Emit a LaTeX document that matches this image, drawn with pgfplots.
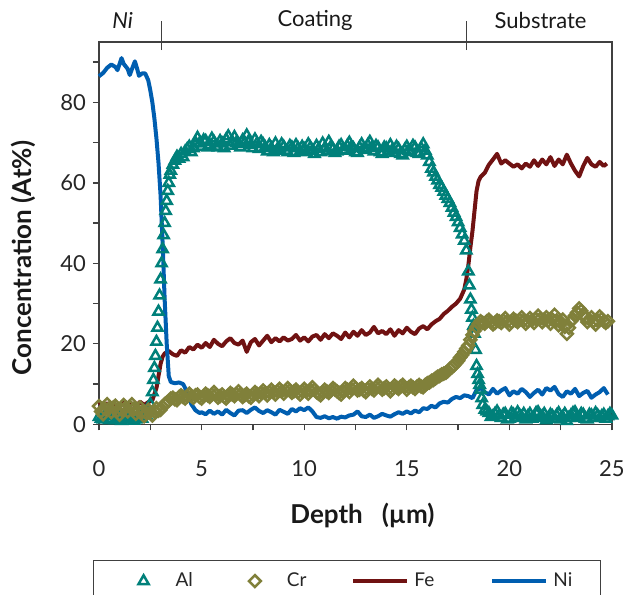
\documentclass[border=0pt]{standalone}
\usepackage{fontspec}
\setmainfont{Lato}
\usepackage{pgfplots}
\pgfplotsset{compat=1.18}

\definecolor{alc}{RGB}{0,128,122}
\definecolor{crc}{RGB}{128,128,58}
\definecolor{fec}{RGB}{112,18,18}
\definecolor{nic}{RGB}{0,94,176}
\definecolor{axc}{RGB}{64,64,64}

\begin{document}
\begin{tikzpicture}
\begin{axis}[
    at={(0,0)}, anchor=south west,
    scale only axis, width=256.5pt, height=191.15pt,
    xmin=0, xmax=25, ymin=0, ymax=95,
    clip=false,
    axis line style={axc, line width=0.65pt},
    xtick={0,5,...,25}, minor xtick={2.5,7.5,...,22.5},
    ytick={0,20,...,80}, minor ytick={10,30,...,90},
    tick align=outside, tick pos=left,
    major tick length=3pt, minor tick length=3pt,
    tick style={axc, line width=0.65pt},
    ticklabel style={font=\fontsize{11}{13}\selectfont, text=black!85},
    xticklabel style={anchor=center, yshift=-19.35pt},
    /pgf/number format/assume math mode=true,
    xlabel={\bfseries Depth\ \ \ (µm)},
    ylabel={\bfseries Concentration (At\%)},
    label style={font=\fontsize{13}{15}\selectfont, text=black!90},
    xlabel style={at={(axis description cs:0.5,0)}, anchor=center, yshift=-45.35pt, xshift=3.5pt},
    ylabel style={at={(axis description cs:0,0.435)}, anchor=center, yshift=37.85pt},
    legend columns=4,
    legend image code/.code={\path[draw=none, fill=none] (0pt,-1pt) rectangle (27pt,1pt); \draw[mark repeat=2,mark phase=2,#1] plot coordinates {(0pt,0pt)(13.5pt,0pt)(27pt,0pt)};},
    legend style={at={(-0.0117,-0.355)}, anchor=north west, draw=axc, line width=0.6pt,
        font=\fontsize{9.5}{11}\selectfont, text=black!85,
        inner xsep=11.5pt, inner ysep=4pt,
        nodes={inner xsep=2.5pt, inner ysep=2pt},
        /tikz/column 2/.style={column sep=15pt},
        /tikz/column 4/.style={column sep=20pt},
        /tikz/column 6/.style={column sep=25.5pt}},
]

% Al
\addplot[only marks, mark=triangle, mark size=2.9pt, mark options={alc, line width=1.25pt}] coordinates {
(0.0,1.8) (0.1,1.4) (0.2,1.2) (0.3,2.2) (0.4,2.0) (0.5,1.0) (0.6,1.4) (0.7,2.4) (0.8,1.0) (0.9,1.8)
(1.0,1.6) (1.1,0.8) (1.2,2.2) (1.3,1.6) (1.4,1.3) (1.5,2.4) (1.6,1.8) (1.7,0.9) (1.8,1.2) (1.9,2.2)
(2.0,2.0) (2.1,1.4) (2.2,2.6) (2.3,2.2) (2.4,3.5) (2.5,5) (2.6,8) (2.65,11) (2.7,14) (2.75,17)
(2.8,20.5) (2.85,24) (2.9,28) (2.95,32) (3.0,36) (3.05,40) (3.1,43.5) (3.15,47) (3.2,50) (3.25,53)
(3.3,55.5) (3.35,58) (3.4,60) (3.45,62) (3.5,63) (3.6,64.5) (3.7,65.5) (3.8,66.5) (3.9,66.0) (4.0,67.2)
(4.1,66.4) (4.2,67.8) (4.3,68.4) (4.4,69.0) (4.5,67.6) (4.6,68.6) (4.7,70.0) (4.8,71.2) (4.9,69.8) (5.0,69.0)
(5.1,70.6) (5.2,70.4) (5.3,68.8) (5.4,69.4) (5.5,71.0) (5.6,70.2) (5.7,69.0) (5.8,68.8) (5.9,70.4) (6.0,69.8)
(6.1,68.6) (6.2,70.8) (6.3,71.6) (6.4,69.2) (6.5,70.2) (6.6,71.4) (6.7,70.0) (6.8,69.6) (6.9,68.8) (7.0,70.6)
(7.1,70.0) (7.2,71.8) (7.3,70.4) (7.4,69.4) (7.5,68.6) (7.6,70.8) (7.7,69.8) (7.8,68.4) (7.9,70.2) (8.0,69.6)
(8.1,68.8) (8.2,67.8) (8.3,69.4) (8.4,68.6) (8.5,67.6) (8.6,69.8) (8.7,68.4) (8.8,68.2) (8.9,69.6) (9.0,69.0)
(9.1,68.0) (9.2,67.6) (9.3,69.2) (9.4,68.8) (9.5,67.4) (9.6,69.4) (9.7,68.6) (9.8,67.8) (9.9,69.0) (10.0,68.4)
(10.1,67.6) (10.2,69.6) (10.3,68.8) (10.4,68.0) (10.5,67.2) (10.6,69.2) (10.7,68.4) (10.8,67.6) (10.9,69.8) (11.0,68.6)
(11.1,67.8) (11.2,70.2) (11.3,69.0) (11.4,68.4) (11.5,67.4) (11.6,67.8) (11.7,69.0) (11.8,69.4) (11.9,68.2) (12.0,68.0)
(12.1,69.2) (12.2,70.0) (12.3,68.8) (12.4,68.6) (12.5,67.6) (12.6,67.4) (12.7,68.8) (12.8,69.6) (12.9,68.4) (13.0,68.2)
(13.1,69.4) (13.2,70.2) (13.3,68.6) (13.4,67.8) (13.5,69.2) (13.6,68.8) (13.7,67.6) (13.8,67.2) (13.9,68.8) (14.0,68.6)
(14.1,67.8) (14.2,69.4) (14.3,68.2) (14.4,67.4) (14.5,69.0) (14.6,68.4) (14.7,67.2) (14.8,66.8) (14.9,68.2) (15.0,69.0)
(15.1,68.0) (15.2,67.6) (15.3,69.2) (15.4,68.8) (15.5,67.4) (15.6,67.2) (15.7,68.6) (15.8,69.6) (15.9,68.0) (16.0,66.8)
(16.1,65.2) (16.2,63.5) (16.3,62.6) (16.4,61.5) (16.5,60.6) (16.6,59.5) (16.7,58.8) (16.8,57.8) (16.9,56.8) (17.0,56)
(17.1,55) (17.2,53.8) (17.3,52.6) (17.4,51.5) (17.5,50.2) (17.6,48.8) (17.7,47.2) (17.8,45.6) (17.9,43.2) (18.0,38)
(18.05,34.5) (18.1,31) (18.15,28.5) (18.2,26.5) (18.25,24.5) (18.3,22.5) (18.35,18.5) (18.4,14.5) (18.45,12.5) (18.5,11)
(18.55,9.8) (18.6,8.6) (18.65,6.5) (18.7,4.8) (18.8,3.6) (18.9,3.2) (19.0,2.8) (19.1,1.8) (19.2,2.0) (19.3,2.6)
(19.4,3.2) (19.5,2.2) (19.6,1.6) (19.7,2.4) (19.8,2.6) (19.9,1.2) (20.0,1.4) (20.1,2.8) (20.2,2.4) (20.3,1.6)
(20.4,3.0) (20.5,2.2) (20.6,1.8) (20.7,2.6) (20.8,1.2) (20.9,2.0) (21.0,2.6) (21.1,1.4) (21.2,1.6) (21.3,2.8)
(21.4,3.0) (21.5,1.8) (21.6,2.0) (21.7,2.6) (21.8,1.0) (21.9,1.6) (22.0,2.4) (22.1,2.0) (22.2,1.4) (22.3,2.2)
(22.4,2.8) (22.5,1.2) (22.6,1.8) (22.7,2.6) (22.8,0.8) (22.9,1.6) (23.0,2.2) (23.1,2.8) (23.2,3.0) (23.3,1.8)
(23.4,1.6) (23.5,2.6) (23.6,2.4) (23.7,1.4) (23.8,1.2) (23.9,2.4) (24.0,2.2) (24.1,1.6) (24.2,2.8) (24.3,2.2)
(24.4,1.6) (24.5,2.0) (24.6,2.4) (24.7,1.4) (24.8,2.0) (24.9,2.6) (25.0,2.2)
};
\addlegendentry{Al}

% Cr
\addplot[only marks, mark=square, mark size=2.1pt, mark options={crc, line width=1.25pt, rotate=45}] coordinates {
(0.0,4.5) (0.1,3.2) (0.2,2.5) (0.3,3.8) (0.4,5.0) (0.5,4.0) (0.6,3.0) (0.7,4.2) (0.8,4.6) (0.9,3.4)
(1.0,2.4) (1.1,3.6) (1.2,4.8) (1.3,4.2) (1.4,3.2) (1.5,4.4) (1.6,5.0) (1.7,3.8) (1.8,2.6) (1.9,3.4)
(2.0,4.2) (2.1,3.0) (2.2,2.0) (2.3,2.8) (2.4,3.6) (2.5,3.0) (2.6,2.2) (2.7,3.2) (2.8,4.0) (2.9,3.4)
(3.0,3.6) (3.1,4.4) (3.2,5.0) (3.3,5.4) (3.4,5.8) (3.5,6.4) (3.6,6.6) (3.7,6.2) (3.8,6.0) (3.9,6.8)
(4.0,7.2) (4.1,6.8) (4.2,6.4) (4.3,7.0) (4.4,7.6) (4.5,7.0) (4.6,6.6) (4.7,7.2) (4.8,7.4) (4.9,6.8)
(5.0,6.4) (5.1,7.0) (5.2,7.6) (5.3,7.2) (5.4,6.8) (5.5,7.4) (5.6,8.0) (5.7,7.4) (5.8,6.6) (5.9,7.0)
(6.0,7.4) (6.1,6.8) (6.2,6.4) (6.3,7.2) (6.4,7.8) (6.5,7.4) (6.6,7.0) (6.7,7.6) (6.8,8.2) (6.9,7.4)
(7.0,6.8) (7.1,7.2) (7.2,7.6) (7.3,7.0) (7.4,6.6) (7.5,7.4) (7.6,8.0) (7.7,7.6) (7.8,7.0) (7.9,7.8)
(8.0,8.4) (8.1,7.8) (8.2,7.2) (8.3,8.0) (8.4,8.6) (8.5,8.0) (8.6,7.4) (8.7,8.2) (8.8,8.8) (8.9,8.2)
(9.0,7.6) (9.1,8.4) (9.2,9.0) (9.3,8.4) (9.4,7.8) (9.5,8.2) (9.6,8.6) (9.7,8.0) (9.8,7.4) (9.9,8.2)
(10.0,8.8) (10.1,8.2) (10.2,7.6) (10.3,8.4) (10.4,9.2) (10.5,8.6) (10.6,8.0) (10.7,7.6) (10.8,7.2) (10.9,8.0)
(11.0,8.6) (11.1,8.2) (11.2,7.8) (11.3,8.4) (11.4,9.0) (11.5,8.6) (11.6,8.2) (11.7,7.8) (11.8,7.4) (11.9,8.2)
(12.0,9.0) (12.1,8.6) (12.2,8.0) (12.3,8.8) (12.4,9.6) (12.5,9.0) (12.6,8.4) (12.7,8.6) (12.8,9.0) (12.9,8.4)
(13.0,8.0) (13.1,8.8) (13.2,9.4) (13.3,8.8) (13.4,8.4) (13.5,9.2) (13.6,9.8) (13.7,9.2) (13.8,8.6) (13.9,9.0)
(14.0,9.4) (14.1,8.8) (14.2,8.2) (14.3,8.8) (14.4,9.6) (14.5,9.2) (14.6,8.8) (14.7,9.4) (14.8,9.8) (14.9,9.2)
(15.0,8.6) (15.1,9.2) (15.2,9.6) (15.3,9.2) (15.4,8.8) (15.5,9.4) (15.6,9.8) (15.7,9.4) (15.8,9.2) (15.9,9.8)
(16.0,10.2) (16.1,10.4) (16.2,10.8) (16.3,11.0) (16.4,11.4) (16.5,11.8) (16.6,12.0) (16.7,12.4) (16.8,12.6) (16.9,12.8)
(17.0,13.2) (17.1,13.8) (17.2,14.2) (17.3,14.6) (17.4,15.2) (17.5,15.8) (17.6,16.6) (17.7,17.2) (17.8,18.0) (17.9,18.8)
(18.0,19.6) (18.1,21.0) (18.2,22.2) (18.3,23.2) (18.4,24.2) (18.5,25.0) (18.6,25.6) (18.7,25.2) (18.8,25.0) (18.9,25.6)
(19.0,26.0) (19.1,25.4) (19.2,24.8) (19.3,25.2) (19.4,25.8) (19.5,25.6) (19.6,25.2) (19.7,25.8) (19.8,26.4) (19.9,25.6)
(20.0,24.8) (20.1,25.4) (20.2,26.2) (20.3,25.8) (20.4,25.4) (20.5,26.0) (20.6,26.6) (20.7,25.8) (20.8,25.0) (20.9,25.6)
(21.0,26.4) (21.1,25.8) (21.2,25.2) (21.3,26.2) (21.4,27.0) (21.5,26.2) (21.6,25.4) (21.7,26.0) (21.8,26.6) (21.9,25.8)
(22.0,25.0) (22.1,26.0) (22.2,27.2) (22.3,25.8) (22.4,24.6) (22.5,25.4) (22.6,26.0) (22.7,24.2) (22.8,22.5) (22.9,24.0)
(23.0,25.6) (23.1,26.2) (23.2,27.0) (23.3,27.8) (23.4,28.8) (23.5,28.2) (23.6,27.4) (23.7,26.4) (23.8,25.4) (23.9,26.0)
(24.0,26.6) (24.1,25.6) (24.2,24.8) (24.3,25.8) (24.4,26.8) (24.5,26.2) (24.6,25.6) (24.7,25.2) (24.8,25.6)
};
\addlegendentry{Cr}

% Fe
\addplot[fec, line width=2pt, line join=round] coordinates {
(0.0,5.5) (0.2,4.6) (0.4,5.2) (0.6,4.4) (0.8,5.0) (1.0,4.2) (1.2,5.4) (1.4,4.6) (1.6,5.2) (1.8,4.4)
(2.0,5.6) (2.2,4.8) (2.4,5.5) (2.6,6.0) (2.8,9) (2.9,12) (3.0,15) (3.1,16.8) (3.2,17.6) (3.4,18.2)
(3.6,17.4) (3.8,17.0) (4.0,18.4) (4.2,17.8) (4.4,19.2) (4.6,18.6) (4.8,19.8) (5.0,19.0) (5.2,20.2) (5.4,19.2)
(5.6,21.0) (5.8,20.0) (6.0,19.4) (6.2,20.6) (6.4,21.4) (6.6,20.2) (6.8,19.8) (7.0,20.8) (7.2,18.0) (7.4,20.4)
(7.6,21.2) (7.8,19.6) (8.0,20.8) (8.2,22.0) (8.4,20.4) (8.6,21.4) (8.8,20.6) (9.0,21.6) (9.2,20.8) (9.4,21.2)
(9.6,22.2) (9.8,20.8) (10.0,21.6) (10.2,20.6) (10.4,21.8) (10.6,22.2) (10.8,21.0) (11.0,22.4) (11.2,21.4) (11.4,22.6)
(11.6,22.0) (11.8,21.2) (12.0,22.8) (12.2,21.6) (12.4,23.0) (12.6,22.0) (12.8,23.4) (13.0,22.2) (13.2,22.8) (13.4,24.2)
(13.6,22.6) (13.8,23.2) (14.0,22.4) (14.2,23.6) (14.4,22.0) (14.6,23.4) (14.8,22.6) (15.0,24.0) (15.2,23.0) (15.4,22.4)
(15.6,23.8) (15.8,24.4) (16.0,23.6) (16.2,24.8) (16.4,25.6) (16.6,26.2) (16.8,27.4) (17.0,28.2) (17.2,29.2) (17.4,30.0)
(17.6,31.2) (17.8,33.5) (17.9,36) (18.0,39.5) (18.1,44) (18.2,48) (18.3,53) (18.4,58) (18.5,60.5) (18.6,61.5)
(18.8,62.5) (19.0,64.5) (19.2,65.8) (19.4,67.2) (19.6,64.8) (19.8,65.6) (20.0,64.8) (20.2,64.0) (20.4,64.6) (20.6,63.6)
(20.8,64.8) (21.0,64.0) (21.2,65.6) (21.4,64.2) (21.6,65.8) (21.8,64.6) (22.0,66.4) (22.2,64.2) (22.4,65.8) (22.6,64.6)
(22.8,67.0) (23.0,64.8) (23.2,63.0) (23.4,61.6) (23.6,64.2) (23.8,66.2) (24.0,64.6) (24.2,64.0) (24.4,65.2) (24.6,64.2)
(24.75,64.8)
};
\addlegendentry{Fe}

% Ni
\addplot[nic, line width=2pt, line join=round] coordinates {
(0.0,86.5) (0.2,87.3) (0.4,88.6) (0.6,89.4) (0.8,88.8) (0.9,88.0) (1.0,89.5) (1.1,91.0) (1.2,89.6) (1.4,88.3)
(1.5,86.8) (1.6,88.2) (1.75,90.2) (1.85,88.5) (1.95,86.6) (2.1,87.2) (2.25,87.2) (2.4,85.5) (2.5,83) (2.6,80)
(2.7,76) (2.8,71) (2.9,65) (3.0,57) (3.1,45) (3.2,31) (3.3,20) (3.4,12) (3.5,10.5) (3.7,10.2)
(3.9,10.4) (4.1,10.0) (4.3,8.0) (4.5,5.0) (4.7,3.5) (4.9,2.8) (5.0,3) (5.2,2.5) (5.4,3.4) (5.6,2.6)
(5.8,3.2) (6.0,2.4) (6.2,3.6) (6.4,2.8) (6.6,2.2) (6.8,3.4) (7.0,3.5) (7.2,2.8) (7.4,3.6) (7.6,4.2)
(7.8,3.3) (8.0,2.8) (8.2,3.5) (8.4,3.0) (8.6,2.4) (8.8,3.6) (9.0,3.1) (9.2,2.6) (9.4,3.8) (9.6,3.2)
(9.8,4.0) (10.0,3.5) (10.2,4.2) (10.4,3.2) (10.6,1.8) (10.8,1.6) (11.0,2.0) (11.2,1.5) (11.4,1.8) (11.6,1.4)
(11.8,1.9) (12.0,1.7) (12.2,2.2) (12.4,2.4) (12.6,3.2) (12.8,2.0) (13.0,1.8) (13.2,2.4) (13.4,1.6) (13.6,2.0)
(13.8,2.6) (14.0,2.2) (14.2,1.9) (14.4,2.5) (14.6,3.0) (14.8,2.6) (15.0,3.2) (15.2,2.7) (15.4,3.4) (15.6,3.0)
(15.8,4.0) (16.0,3.8) (16.2,4.6) (16.4,4.2) (16.6,5.2) (16.8,5.6) (17.0,5.4) (17.2,6.3) (17.4,6.8) (17.6,6.5)
(17.8,7.2) (18.0,7.0) (18.2,6.5) (18.4,8.5) (18.6,9.0) (18.8,8.0) (19.0,7.4) (19.2,8.8) (19.4,7.6) (19.6,8.4)
(19.8,9.0) (20.0,7.2) (20.2,8.2) (20.4,7.6) (20.6,8.8) (20.8,8.0) (21.0,6.8) (21.2,7.8) (21.4,8.6) (21.6,7.4)
(21.8,9.0) (22.0,8.4) (22.2,9.3) (22.4,7.5) (22.6,6.8) (22.8,8.2) (23.0,7.6) (23.2,8.8) (23.4,7.0) (23.6,7.8)
(23.8,8.3) (24.0,6.6) (24.2,7.4) (24.4,8.0) (24.6,9.0) (24.8,7.4)
};
\addlegendentry{Ni}

% region separators and names above the frame
\draw[axc, line width=0.65pt] (axis cs:3.03,95) ++(0,-4pt) -- ++(0,14.5pt);
\draw[axc, line width=0.65pt] (axis cs:17.92,95) ++(0,-4pt) -- ++(0,14.5pt);
\node[font=\fontsize{11}{13}\selectfont\itshape, text=black!90, yshift=10.75pt] at (axis cs:1.15,95) {Ni};
\node[font=\fontsize{11}{13}\selectfont, text=black!90, yshift=10.75pt] at (axis cs:10.53,95) {Coating};
\node[font=\fontsize{11}{13}\selectfont, text=black!90, yshift=10.75pt] at (axis cs:21.52,95) {Substrate};
\end{axis}
\pgfresetboundingbox
\path[use as bounding box] (-49.5pt,-85.35pt) rectangle (265pt,212.15pt);
\end{tikzpicture}
\end{document}
